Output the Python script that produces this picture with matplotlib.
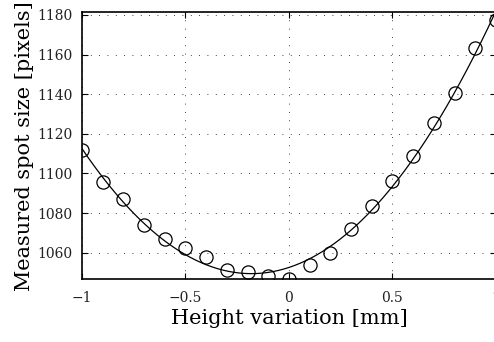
import numpy as np
import matplotlib
matplotlib.use("Agg")
import matplotlib.pyplot as plt

# measured data
height = [-1.0, -0.9, -0.8, -0.7, -0.6, -0.5, -0.4, -0.3, -0.2, -0.1, 0.0,
          0.1, 0.2, 0.3, 0.4, 0.5, 0.6, 0.7, 0.8, 0.9, 1.0]
spot = [1111.8, 1095.7, 1086.9, 1074.0, 1066.9, 1062.2, 1057.6, 1051.2, 1050.4,
        1048.2, 1046.7, 1053.7, 1060.0, 1071.8, 1083.5, 1096.2, 1109.0, 1125.3,
        1140.8, 1163.2, 1177.5]
xticks = [-1, -0.5, 0, 0.5, 1]
xtick_labels = ["\u22121", "\u22120.5", "0", "0.5", "1"]
yticks = [1060, 1080, 1100, 1120, 1140, 1160, 1180]

plt.rcParams['font.family'] = ['DejaVu Serif']

fig = plt.figure(figsize=(4.94, 3.42), dpi=100)
ax = fig.add_axes([0.166, 0.183, 0.838, 0.782])

# polynomial fit through the measurements
coef = np.polyfit(height, spot, 3)
xf = np.linspace(-1, 1, 300)
ax.plot(xf, np.polyval(coef, xf), color='black', lw=0.9)
ax.plot(height, spot, 'o', mfc='none', mec='black', ms=9.5, mew=0.9)

ax.set_xlim(-1, 1)
ax.set_ylim(1046.5, 1181.5)
ax.set_xticks(xticks)
ax.set_xticklabels(xtick_labels)
ax.set_yticks(yticks)
ax.tick_params(direction='in', top=True, right=True, length=4, labelsize=10,
               labelcolor='#222222')
ax.tick_params(axis='x', pad=8)
ax.tick_params(axis='y', pad=7)
ax.grid(True, linestyle=(0, (1, 9)), color='black', lw=0.6)
for s in ax.spines.values():
    s.set_linewidth(1.2)

ax.set_xlabel("Height variation [mm]", fontsize=15, labelpad=3)
ax.set_ylabel("Measured spot size [pixels]", fontsize=15, labelpad=2)

fig.savefig("out.png", dpi=100)
